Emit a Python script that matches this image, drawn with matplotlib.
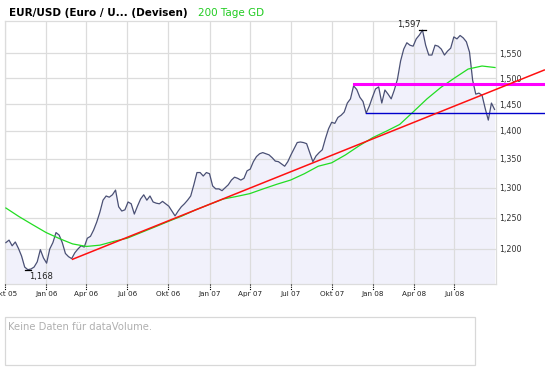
import matplotlib
matplotlib.use('Agg')
import matplotlib.pyplot as plt
from matplotlib.ticker import FixedLocator, NullLocator
from matplotlib.patches import Rectangle
import numpy as np
import pandas as pd

# ---------------- data ----------------
title_text = "EUR/USD (Euro / U... (Devisen)"
legend_text = "200 Tage GD"
volume_text = "Keine Daten für dataVolume."

price_start = '2005-10-03'
price_values = [
    1.210, 1.214, 1.205, 1.211, 1.201, 1.189, 1.172, 1.168, 1.169, 1.172,
    1.180, 1.199, 1.186, 1.178, 1.200, 1.210, 1.226, 1.222, 1.210, 1.193,
    1.188, 1.185, 1.194, 1.200, 1.205, 1.203, 1.217, 1.220, 1.230, 1.243,
    1.259, 1.279, 1.286, 1.284, 1.288, 1.296,
    1.268, 1.261, 1.263, 1.276, 1.273, 1.256, 1.269, 1.281, 1.288, 1.279,
    1.286, 1.276, 1.274, 1.273, 1.277, 1.273, 1.269, 1.261, 1.253, 1.261,
    1.268, 1.273, 1.279, 1.286, 1.305, 1.326, 1.326,
    1.320, 1.326, 1.324, 1.303, 1.298, 1.298, 1.295, 1.300, 1.305, 1.313,
    1.318, 1.316, 1.313, 1.316, 1.329, 1.332, 1.345, 1.354, 1.359, 1.361,
    1.359, 1.357, 1.352, 1.346, 1.345, 1.341, 1.337, 1.345, 1.357, 1.368,
    1.379, 1.380, 1.379, 1.377, 1.361, 1.345, 1.355, 1.361, 1.366, 1.386,
    1.404, 1.416, 1.414, 1.425, 1.429, 1.435, 1.452, 1.460,
    1.485, 1.478, 1.463, 1.455, 1.433, 1.446, 1.463, 1.479, 1.483, 1.452,
    1.477, 1.469, 1.460, 1.477, 1.498, 1.534, 1.558, 1.571, 1.566, 1.564,
    1.579, 1.587, 1.597, 1.566, 1.546, 1.546, 1.566, 1.564, 1.558, 1.546,
    1.554, 1.560, 1.583, 1.579, 1.586, 1.581, 1.573, 1.552, 1.496, 1.469,
    1.471, 1.467, 1.442, 1.420, 1.452, 1.440,
]
price_dates = pd.date_range(price_start, periods=len(price_values), freq='7D')

ma_dates = pd.to_datetime([
    '2005-10-03', '2005-11-01', '2005-12-01', '2006-01-01', '2006-02-01',
    '2006-03-01', '2006-04-01', '2006-05-01', '2006-06-01', '2006-07-01',
    '2006-08-01', '2006-09-01', '2006-10-01', '2006-11-01', '2006-12-01',
    '2007-01-01', '2007-02-01', '2007-03-01', '2007-04-01', '2007-05-01',
    '2007-06-01', '2007-07-01', '2007-08-01', '2007-09-01', '2007-10-01',
    '2007-11-01', '2007-12-01', '2008-01-01', '2008-02-01', '2008-03-01',
    '2008-04-01', '2008-05-01', '2008-06-01', '2008-07-01', '2008-08-01',
    '2008-09-01', '2008-09-30'])
ma_values = [
    1.266, 1.252, 1.239, 1.226, 1.216, 1.208, 1.204, 1.206, 1.212, 1.217,
    1.226, 1.235, 1.244, 1.253, 1.263, 1.272, 1.281, 1.285, 1.290, 1.298,
    1.306, 1.313, 1.324, 1.337, 1.343, 1.357, 1.373, 1.388, 1.400, 1.412,
    1.436, 1.460, 1.482, 1.500, 1.518, 1.524, 1.521]

trend_dates = pd.to_datetime(['2006-03-01', '2009-01-18'])
trend_values = [1.184, 1.516]

resist_dates = pd.to_datetime(['2007-11-19', '2009-01-20'])
resist_values = [1.488, 1.488]
support_dates = pd.to_datetime(['2007-12-17', '2009-01-20'])
support_values = [1.433, 1.433]

ytick_values = [1.20, 1.25, 1.30, 1.35, 1.40, 1.45, 1.50, 1.55]
ytick_labels = ['1,200', '1,250', '1,300', '1,350', '1,400', '1,450', '1,500', '1,550']
xtick_dates = pd.to_datetime(['2005-10-01', '2006-01-01', '2006-04-01', '2006-07-01',
                              '2006-10-01', '2007-01-01', '2007-04-01', '2007-07-01',
                              '2007-10-01', '2008-01-01', '2008-04-01', '2008-07-01'])
xtick_labels = ['Okt 05', 'Jan 06', 'Apr 06', 'Jul 06', 'Okt 06', 'Jan 07',
                'Apr 07', 'Jul 07', 'Okt 07', 'Jan 08', 'Apr 08', 'Jul 08']

x_range = [pd.Timestamp('2005-10-01'), pd.Timestamp('2008-10-02 05:00')]
y_range = [1.14635, 1.6163]

# ---------------- figure ----------------
W, H = 545, 370
fig = plt.figure(figsize=(W / 100, H / 100), dpi=100)
ax = fig.add_axes([5 / W, 1 - 284 / H, 491 / W, 263 / H])
ax.set_facecolor('white')
ax.set_yscale('log')
ax.set_xlim(x_range[0], x_range[1])
ax.set_ylim(*y_range)

grid_c = '#dcdcdc'
ax.set_axisbelow('line')
ax.grid(True, color=grid_c, lw=0.9)
for s in ax.spines.values():
    s.set_color(grid_c)
    s.set_linewidth(0.9)

ax.yaxis.tick_right()
ax.yaxis.set_major_locator(FixedLocator(ytick_values))
ax.yaxis.set_minor_locator(NullLocator())
ax.set_yticklabels(ytick_labels)
ax.tick_params(axis='y', length=0, pad=2.5, labelsize=5.8, labelcolor='#333333')

ax.set_xticks(xtick_dates)
ax.set_xticklabels(xtick_labels)
ax.xaxis.set_minor_locator(NullLocator())
ax.tick_params(axis='x', length=0, pad=5, labelsize=5.2, labelcolor='#222222')

# dotted tick marks below the axis
tick_tr = ax.get_xaxis_transform()
for d in xtick_dates:
    ax.plot([d, d], [0, -0.024], transform=tick_tr, color='black', lw=0.8,
            ls=(0, (1, 1)), clip_on=False, zorder=5)

# price area + line
ax.fill_between(price_dates, price_values, 1.0, color='#f1f1fb', lw=0, zorder=1)
ax.plot(price_dates, price_values, color='#4a5075', lw=0.9, zorder=3)

# 200-day average
ax.plot(ma_dates, ma_values, color='#22dd22', lw=0.9, zorder=3.2)

# trend and horizontal lines
ax.plot(trend_dates, trend_values, color='#ff1010', lw=1.1, zorder=3.5, clip_on=False)
ax.plot(resist_dates, resist_values, color='#ff00ff', lw=2.2, zorder=3.4, clip_on=False)
ax.plot(support_dates, support_values, color='#0000cc', lw=1.0, zorder=3.4, clip_on=False)

# max / min markers
pv = np.array(price_values)
imax, imin = int(pv.argmax()), int(pv.argmin())
dmax, dmin = price_dates[imax], price_dates[imin]
half = pd.Timedelta(days=7)
ax.plot([dmax - half, dmax + half], [pv[imax], pv[imax]], color='black', lw=0.9, zorder=4)
ax.plot([dmin - half, dmin + half], [pv[imin], pv[imin]], color='black', lw=0.9, zorder=4)
ax.annotate(f"{pv[imax]:.3f}".replace('.', ','), (dmax, pv[imax]), xytext=(-1, 1),
            textcoords='offset points', ha='right', va='bottom', fontsize=6,
            color='#222222')
ax.annotate(f"{pv[imin]:.3f}".replace('.', ','), (dmin, pv[imin]), xytext=(1, -1.5),
            textcoords='offset points', ha='left', va='top', fontsize=6,
            color='#222222')

# title
fig.text(9 / W, 1 - 12.5 / H, title_text, fontsize=7.5, fontweight='bold',
         color='black', ha='left', va='center')
fig.text(198 / W, 1 - 12.5 / H, legend_text, fontsize=7.5, color='#22cc22',
         ha='left', va='center')

# volume panel
fig.patches.append(Rectangle((5 / W, 1 - 365 / H), 470 / W, 48 / H,
                             transform=fig.transFigure, facecolor='white',
                             edgecolor='#d8d8d8', lw=0.9))
fig.text(8 / W, 1 - 327 / H, volume_text, fontsize=7.2, color='#b0b0b0',
         ha='left', va='center')

fig.savefig('out.png', dpi=100)
